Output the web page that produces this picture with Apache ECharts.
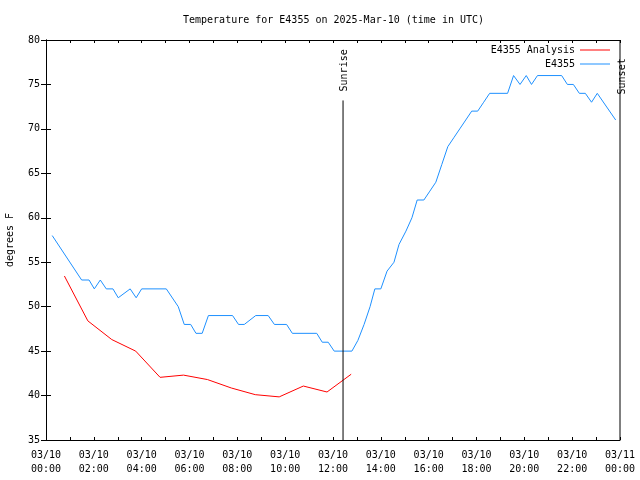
<!DOCTYPE html>
<html><head><meta charset="utf-8">
<script src="https://cdn.jsdelivr.net/npm/echarts@6/dist/echarts.min.js"></script>
<style>html,body{margin:0;padding:0;background:#fff}#c{width:640px;height:480px}</style>
</head><body><div id="c"></div>
<script>
// hours since 2025-03-10 00:00 UTC
const obsHours = [0.26,1.49,1.8,2.02,2.27,2.52,2.8,3.02,3.52,3.77,4.0,5.03,5.53,5.78,6.05,6.27,6.53,6.79,7.8,8.05,8.29,8.77,9.29,9.55,10.06,10.3,11.32,11.55,11.8,12.05,12.79,13.04,13.3,13.55,13.75,14.0,14.26,14.55,14.76,15.05,15.3,15.52,15.8,16.05,16.3,16.55,16.8,17.05,17.3,17.55,17.8,18.05,18.3,18.55,19.3,19.55,19.82,20.08,20.3,20.55,21.56,21.8,22.05,22.3,22.55,22.81,23.05,23.82];
const obsTemps = [58,53,53,52,53,52,52,51,52,51,52,52,50,48,48,47,47,49,49,48,48,49,49,48,48,47,47,46,46,45,45,46.2,48,50,52,52,54,55,57,58.5,60,62,62,63,64,66,68,69,70,71,72,72,73,74,74,76,75,76,75,76,76,75,75,74,74,73,74,71];
const anaHours = [0.77,1.75,2.75,3.75,4.77,5.75,6.75,7.75,8.75,9.75,10.76,11.75,12.76];
const anaTemps = [53.45,48.4,46.3,45.0,42.05,42.3,41.8,40.85,40.1,39.85,41.07,40.4,42.4];
const sunriseHour = 12.42, sunsetHour = 24.0;
const xTickLabels = ['03/10\n00:00','03/10\n02:00','03/10\n04:00','03/10\n06:00','03/10\n08:00','03/10\n10:00','03/10\n12:00','03/10\n14:00','03/10\n16:00','03/10\n18:00','03/10\n20:00','03/10\n22:00','03/11\n00:00'];
const yMin = 35, yMax = 80;
const FONT = 'DejaVu Sans Mono';

const chart = echarts.init(document.getElementById('c'), null, {renderer:'canvas'});
const zip = (a,b)=>a.map((v,i)=>[v,b[i]]);
const axisLineStyle = {lineStyle:{color:'#000',width:1}};
const option = {
  animation:false,
  textStyle:{fontFamily:FONT, fontSize:10, color:'#000'},
  title:{text:'Temperature for E4355 on 2025-Mar-10 (time in UTC)', left:178, top:10,
    textStyle:{fontFamily:FONT, fontSize:10, fontWeight:'normal', color:'#000'}},
  legend:{orient:'vertical', right:30, top:44, padding:0, align:'right', itemWidth:30, itemHeight:1, itemGap:2,
    icon:'rect', textStyle:{fontFamily:FONT, fontSize:10, color:'#000', lineHeight:12},
    data:['E4355 Analysis','E4355']},
  grid:{left:46, right:20, top:40, bottom:40, containLabel:false, outerBoundsMode:'none'},
  xAxis:[{type:'value', min:0, max:24, interval:1, position:'bottom',
      axisLine:axisLineStyle, axisTick:{inside:true, length:3, lineStyle:{color:'#000'}},
      splitLine:{show:false},
      axisLabel:{margin:8, lineHeight:14, fontFamily:FONT, fontSize:10, color:'#000',
        formatter:v=> (v%2===0 ? xTickLabels[v/2] : '')}},
    {type:'value', min:0, max:24, interval:1, position:'top',
      axisLine:axisLineStyle, axisTick:{inside:true, length:3, lineStyle:{color:'#000'}},
      splitLine:{show:false}, axisLabel:{show:false}}],
  yAxis:[{type:'value', min:yMin, max:yMax, interval:5, position:'left',
      name:'degrees F', nameLocation:'middle', nameGap:31, nameRotate:90,
      nameTextStyle:{fontFamily:FONT, fontSize:10, color:'#000'},
      axisLine:{show:true, lineStyle:{color:'#000'}}, axisTick:{inside:true, length:5, lineStyle:{color:'#000'}},
      splitLine:{show:false}, axisLabel:{margin:6, fontFamily:FONT, fontSize:10, color:'#000'}},
    {type:'value', min:yMin, max:yMax, interval:5, position:'right',
      axisLine:{show:true, lineStyle:{color:'#000'}}, axisTick:{inside:true, length:5, lineStyle:{color:'#000'}},
      splitLine:{show:false}, axisLabel:{show:false}}],
  series:[
    {name:'E4355 Analysis', type:'line', data:zip(anaHours, anaTemps), showSymbol:false, symbol:'none',
      lineStyle:{color:'#ff0000', width:1}, itemStyle:{color:'#ff0000'}},
    {name:'E4355', type:'line', data:zip(obsHours, obsTemps), showSymbol:false, symbol:'none',
      lineStyle:{color:'#1e90ff', width:1}, itemStyle:{color:'#1e90ff'}},
    {name:'sunrise', type:'line', data:[[sunriseHour, yMin],[sunriseHour, 73.2]], symbol:'none',
      lineStyle:{color:'#000', width:1}, silent:true},
    {name:'sunset', type:'line', data:[[sunsetHour, yMin],[sunsetHour, yMax]], symbol:'none',
      lineStyle:{color:'#000', width:1}, silent:true}
  ]
};
chart.setOption(option);
const p1 = chart.convertToPixel({xAxisIndex:0, yAxisIndex:0}, [sunriseHour, 73.2]);
const p2 = chart.convertToPixel({xAxisIndex:0, yAxisIndex:0}, [sunsetHour, 73.2]);
chart.setOption({graphic:[
  {type:'text', x:p1[0]+1, y:p1[1]-9, rotation:Math.PI/2,
    style:{text:'Sunrise', font:'10px "DejaVu Sans Mono"', fill:'#000', align:'left', verticalAlign:'middle'}},
  {type:'text', x:p2[0]+2, y:p1[1]-6, rotation:Math.PI/2,
    style:{text:'Sunset', font:'10px "DejaVu Sans Mono"', fill:'#000', align:'left', verticalAlign:'middle'}}
]});
</script></body></html>
